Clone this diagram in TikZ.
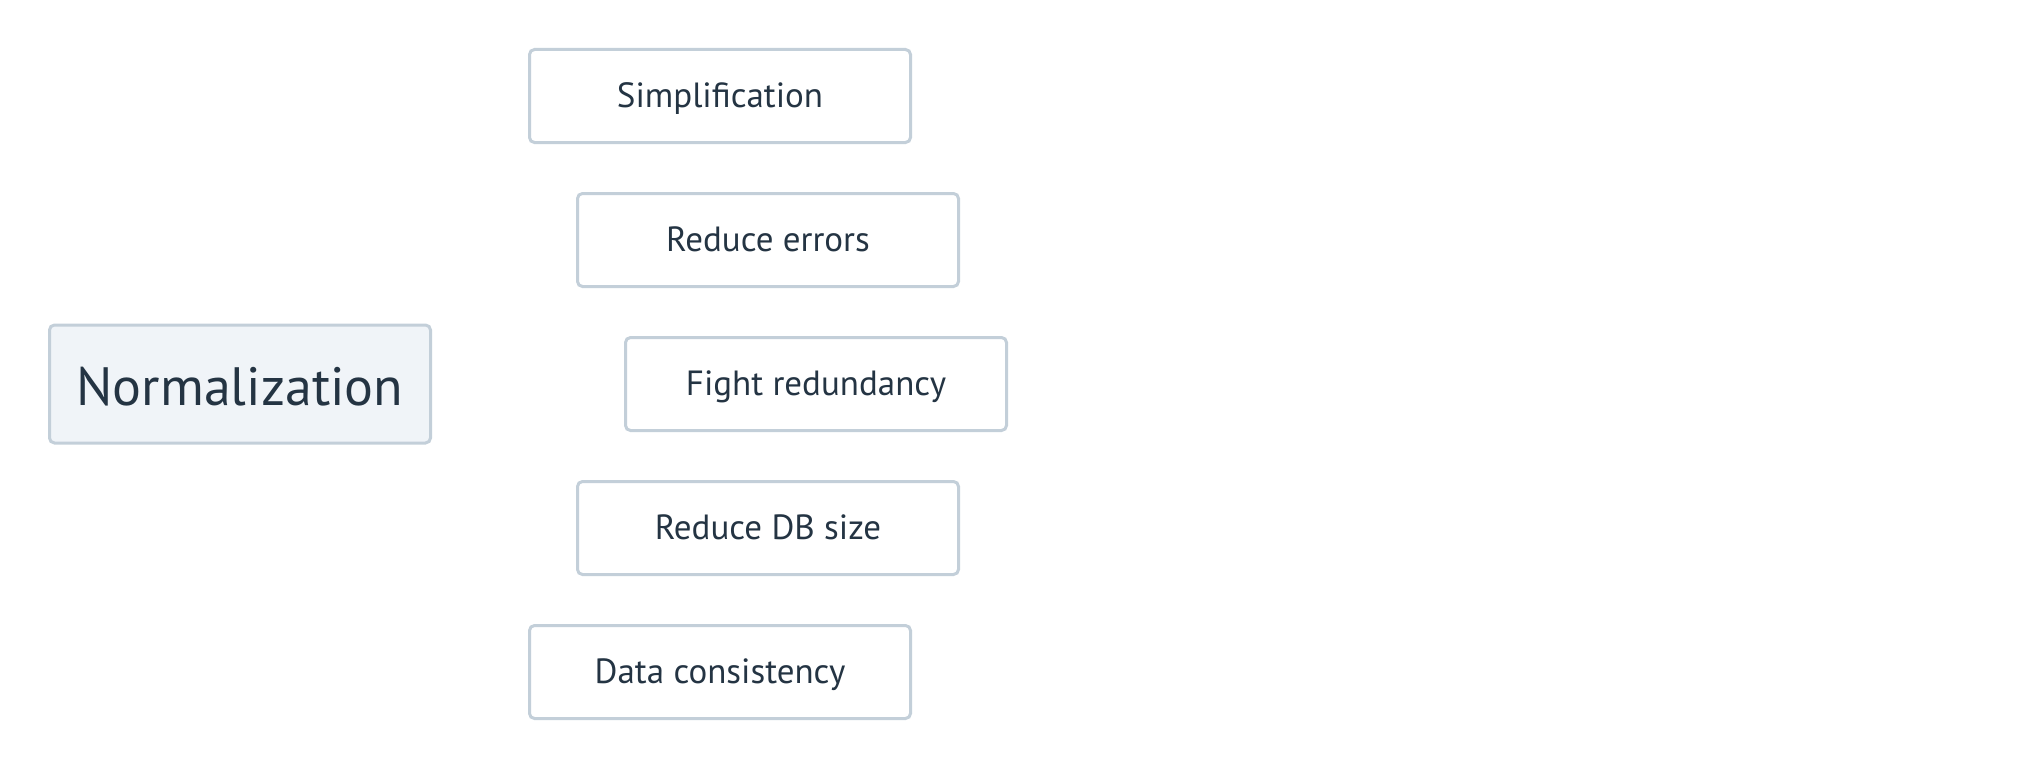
\documentclass[tikz,border=0pt]{standalone}
\usepackage{fontspec}
\setmainfont{PT Sans}
\definecolor{bordc}{HTML}{C3CFD9}
\definecolor{fillc}{HTML}{F0F4F8}
\definecolor{textc}{HTML}{243443}
\tikzset{
  box/.style={draw=bordc, line width=3pt, rounded corners=5pt, fill=white,
    minimum width=381pt, minimum height=93pt, inner sep=0pt, text=textc,
    text height=30pt, text depth=7pt,
    font=\fontsize{35}{40}\selectfont},
  root/.style={box, fill=fillc, minimum height=118pt, text height=48pt, text depth=6pt,
    font=\fontsize{54}{62}\selectfont}
}
\begin{document}
\begin{tikzpicture}[x=1pt,y=-1pt]
\useasboundingbox (0,0) rectangle (2034,768);
\node[root] (norm) at (240,384) {Normalization};
\node[box] (simp) at (720,96) {Simplification};
\node[box] (rerr) at (768,240) {Reduce errors};
\node[box] (fred) at (816,384) {Fight redundancy};
\node[box] (rdb) at (768,528) {Reduce DB size};
\node[box] (dcons) at (720,672) {Data consistency};
\end{tikzpicture}
\end{document}
